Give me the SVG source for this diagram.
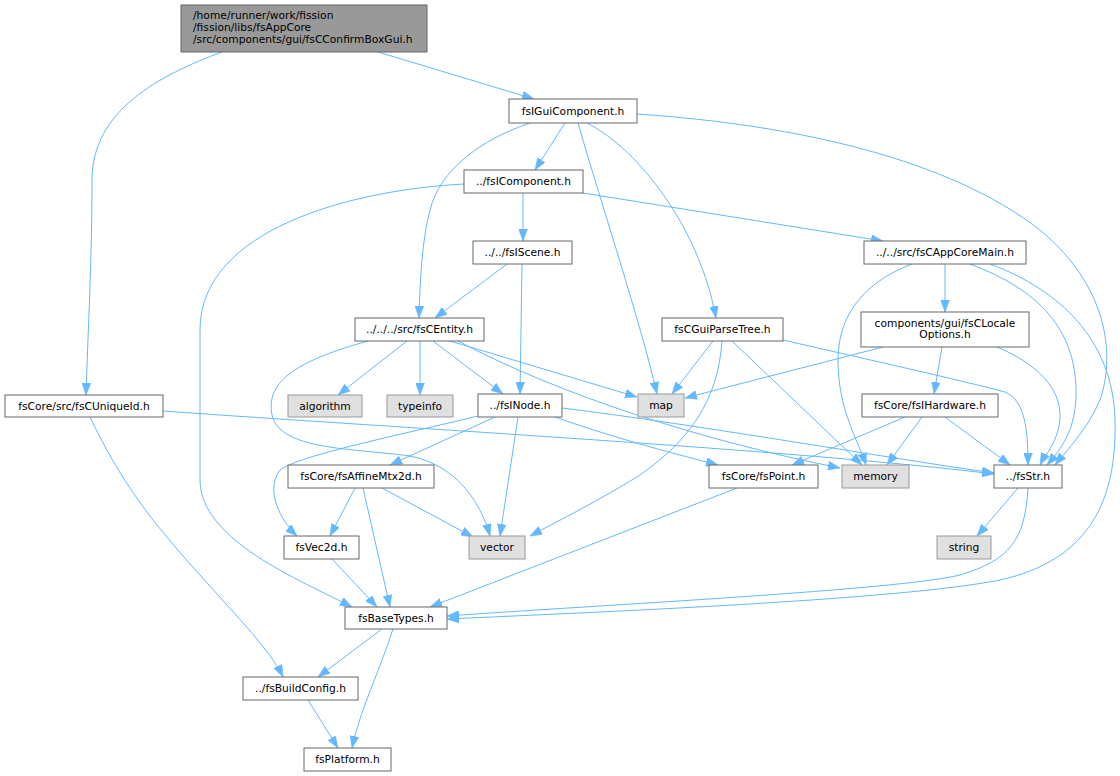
<svg xmlns="http://www.w3.org/2000/svg" width="1120" height="776" viewBox="0 0 1120 776">
<style>
.n rect{fill:#ffffff;stroke:#666666;stroke-width:1}
.ext rect{fill:#e0e0e0;stroke:#999999;stroke-width:1}
.root rect{fill:#999999;stroke:#666666;stroke-width:1}
text{font-family:"DejaVu Sans","Liberation Sans",sans-serif;font-size:10.7px;fill:#000000}
.c{text-anchor:middle}
#edges path{fill:none;stroke:#63b8ff;stroke-width:1;marker-end:url(#ah)}
</style>
<defs>
<marker id="ah" markerUnits="userSpaceOnUse" viewBox="0 0 12 9" refX="12" refY="4.5" markerWidth="12" markerHeight="9" orient="auto">
<path d="M0,0 L12,4.5 L0,9 z" fill="#63b8ff" stroke="#63b8ff" stroke-width="0.5"/>
</marker>
</defs>
<rect width="1120" height="776" fill="#ffffff"/>
<g id="edges">
<path d="M378,52 L534,99"/>
<path d="M222,52 C160,75 92,110 92,180 C92,260 88,330 86,395"/>
<path d="M565,123 L535,170"/>
<path d="M530,123 C480,140 440,170 430,210 C422,240 420,280 419,318"/>
<path d="M578,123 C600,200 640,320 657,394"/>
<path d="M587,123 C640,150 700,230 716,318"/>
<path d="M637,114 C800,125 950,160 1040,230 C1112,290 1114,360 1100,400 C1087,430 1067,450 1055,465"/>
<path d="M523,193 L523,241"/>
<path d="M464,184 C350,190 200,230 200,330 L200,480 C200,540 300,580 352,607"/>
<path d="M583,193 L883,241"/>
<path d="M507,264 L435,318"/>
<path d="M522,264 L520,394"/>
<path d="M912,264 C870,280 838,310 838,360 C838,410 858,440 866,465"/>
<path d="M945,264 L945,312"/>
<path d="M970,264 C1040,290 1075,330 1076,390 C1077,430 1060,450 1047,465"/>
<path d="M990,264 C1060,290 1113,340 1115,420 C1117,500 1090,560 1000,580 C900,600 600,612 447,619"/>
<path d="M883,347 L685,398"/>
<path d="M942,347 L934,394"/>
<path d="M997,347 C1040,365 1060,390 1060,415 C1060,440 1045,455 1040,465"/>
<path d="M905,417 L792,465"/>
<path d="M922,417 L887,465"/>
<path d="M945,417 L1010,465"/>
<path d="M407,341 L338,395"/>
<path d="M420,341 L420,395"/>
<path d="M433,341 L503,394"/>
<path d="M450,341 L637,397"/>
<path d="M458,341 C560,395 700,440 840,468"/>
<path d="M368,341 C300,360 265,380 272,415 C280,450 350,448 410,456 C455,465 480,500 490,536"/>
<path d="M713,341 L672,394"/>
<path d="M722,341 C718,400 690,440 640,475 C600,500 560,520 530,536"/>
<path d="M732,341 L862,465"/>
<path d="M783,340 C870,360 960,380 1005,392 C1025,400 1028,430 1028,465"/>
<path d="M163,411 C400,428 800,450 994,474"/>
<path d="M90,417 C120,480 150,520 200,575 C240,620 270,650 283,677"/>
<path d="M495,417 L390,465"/>
<path d="M478,416 C400,435 300,455 280,470 C265,490 280,520 297,536"/>
<path d="M518,417 L500,536"/>
<path d="M555,417 C620,440 680,455 718,465"/>
<path d="M562,408 C700,425 900,460 994,473"/>
<path d="M355,488 L330,536"/>
<path d="M382,488 L473,537"/>
<path d="M363,488 L390,607"/>
<path d="M332,559 L377,607"/>
<path d="M737,488 L430,607"/>
<path d="M1018,488 L977,536"/>
<path d="M1028,488 C1025,540 1010,560 960,575 C900,590 600,605 447,616"/>
<path d="M382,629 L318,677"/>
<path d="M393,629 C380,670 360,710 352,748"/>
<path d="M308,700 L338,748"/>
</g>
<g id="root" class="root"><rect x="181" y="5" width="246" height="47"/>
<text x="193" y="19">/home/runner/work/fission</text>
<text x="193" y="31">/fission/libs/fsAppCore</text>
<text x="193" y="43">/src/components/gui/fsCConfirmBoxGui.h</text></g>
<g id="fsIGuiComponent" class="n"><rect x="509" y="99" width="128" height="24"/><text class="c" x="573" y="114.5">fsIGuiComponent.h</text></g>
<g id="fsIComponent" class="n"><rect x="464" y="170" width="119" height="23"/><text class="c" x="523.5" y="185">../fsIComponent.h</text></g>
<g id="fsIScene" class="n"><rect x="473" y="241" width="99" height="23"/><text class="c" x="522.5" y="256">../../fsIScene.h</text></g>
<g id="fsCAppCoreMain" class="n"><rect x="864" y="241" width="162" height="23"/><text class="c" x="945" y="256">../../src/fsCAppCoreMain.h</text></g>
<g id="fsCLocaleOptions" class="n"><rect x="861" y="312" width="168" height="35"/><text class="c" x="945" y="326.5">components/gui/fsCLocale</text><text class="c" x="945" y="338">Options.h</text></g>
<g id="fsIHardware" class="n"><rect x="862" y="394" width="136" height="23"/><text class="c" x="930" y="409">fsCore/fsIHardware.h</text></g>
<g id="fsCEntity" class="n"><rect x="355" y="318" width="129" height="23"/><text class="c" x="419.5" y="333">../../../src/fsCEntity.h</text></g>
<g id="fsCGuiParseTree" class="n"><rect x="662" y="318" width="121" height="23"/><text class="c" x="722.5" y="333">fsCGuiParseTree.h</text></g>
<g id="fsCUniqueId" class="n"><rect x="5" y="395" width="158" height="22"/><text class="c" x="84" y="409.5">fsCore/src/fsCUniqueId.h</text></g>
<g id="algorithm" class="ext"><rect x="288" y="395" width="74" height="22"/><text class="c" x="325" y="409.5">algorithm</text></g>
<g id="typeinfo" class="ext"><rect x="387" y="395" width="66" height="22"/><text class="c" x="420" y="409.5">typeinfo</text></g>
<g id="fsINode" class="n"><rect x="478" y="394" width="84" height="23"/><text class="c" x="520" y="409">../fsINode.h</text></g>
<g id="map" class="ext"><rect x="638" y="394" width="46" height="23"/><text class="c" x="661" y="409">map</text></g>
<g id="fsAffineMtx2d" class="n"><rect x="288" y="465" width="146" height="23"/><text class="c" x="361" y="480">fsCore/fsAffineMtx2d.h</text></g>
<g id="fsPoint" class="n"><rect x="709" y="465" width="109" height="23"/><text class="c" x="763.5" y="480">fsCore/fsPoint.h</text></g>
<g id="memory" class="ext"><rect x="842" y="465" width="67" height="23"/><text class="c" x="875.5" y="480">memory</text></g>
<g id="fsStr" class="n"><rect x="994" y="465" width="68" height="23"/><text class="c" x="1028" y="480">../fsStr.h</text></g>
<g id="fsVec2d" class="n"><rect x="284" y="536" width="75" height="23"/><text class="c" x="321.5" y="551">fsVec2d.h</text></g>
<g id="vector" class="ext"><rect x="469" y="536" width="56" height="23"/><text class="c" x="497" y="551">vector</text></g>
<g id="string" class="ext"><rect x="937" y="536" width="54" height="23"/><text class="c" x="964" y="551">string</text></g>
<g id="fsBaseTypes" class="n"><rect x="345" y="607" width="102" height="22"/><text class="c" x="396" y="621.5">fsBaseTypes.h</text></g>
<g id="fsBuildConfig" class="n"><rect x="243" y="677" width="115" height="23"/><text class="c" x="300.5" y="692">../fsBuildConfig.h</text></g>
<g id="fsPlatform" class="n"><rect x="304" y="748" width="87" height="23"/><text class="c" x="347.5" y="763">fsPlatform.h</text></g>
</svg>
